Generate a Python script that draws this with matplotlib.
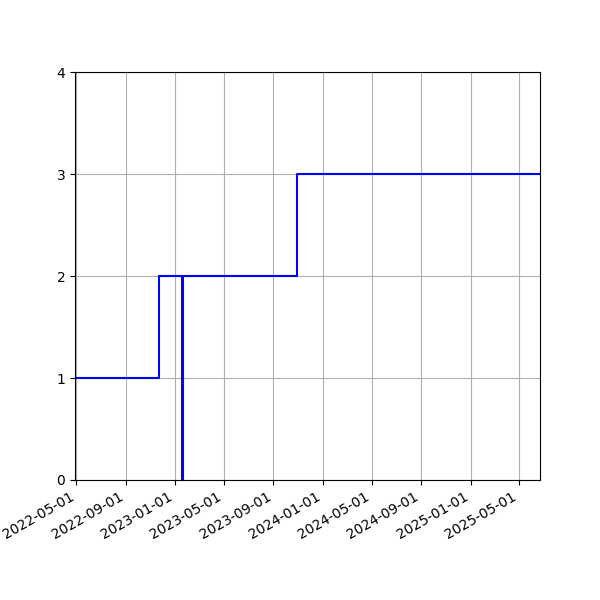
import datetime as dt
import matplotlib
matplotlib.use("Agg")
import matplotlib.pyplot as plt
import matplotlib.dates as mdates

# step data
dates = ["2022-04-28", "2022-11-23", "2023-01-18", "2023-01-20", "2023-10-29", "2025-06-22"]
values = [1, 2, 0, 2, 3, 3]

x = [dt.datetime.strptime(d, "%Y-%m-%d") for d in dates]

fig, ax = plt.subplots(figsize=(6, 6), dpi=100)
ax.plot(x, values, color="blue", drawstyle="steps-post")

ax.set_xlim(x[0], x[-1])
ax.set_ylim(0, 4)
ax.set_yticks([0, 1, 2, 3, 4])
ax.xaxis.set_major_locator(mdates.MonthLocator(bymonth=[1, 5, 9]))
ax.xaxis.set_major_formatter(mdates.DateFormatter("%Y-%m-%d"))
ax.grid(True)
fig.autofmt_xdate()

fig.savefig("out.png")
